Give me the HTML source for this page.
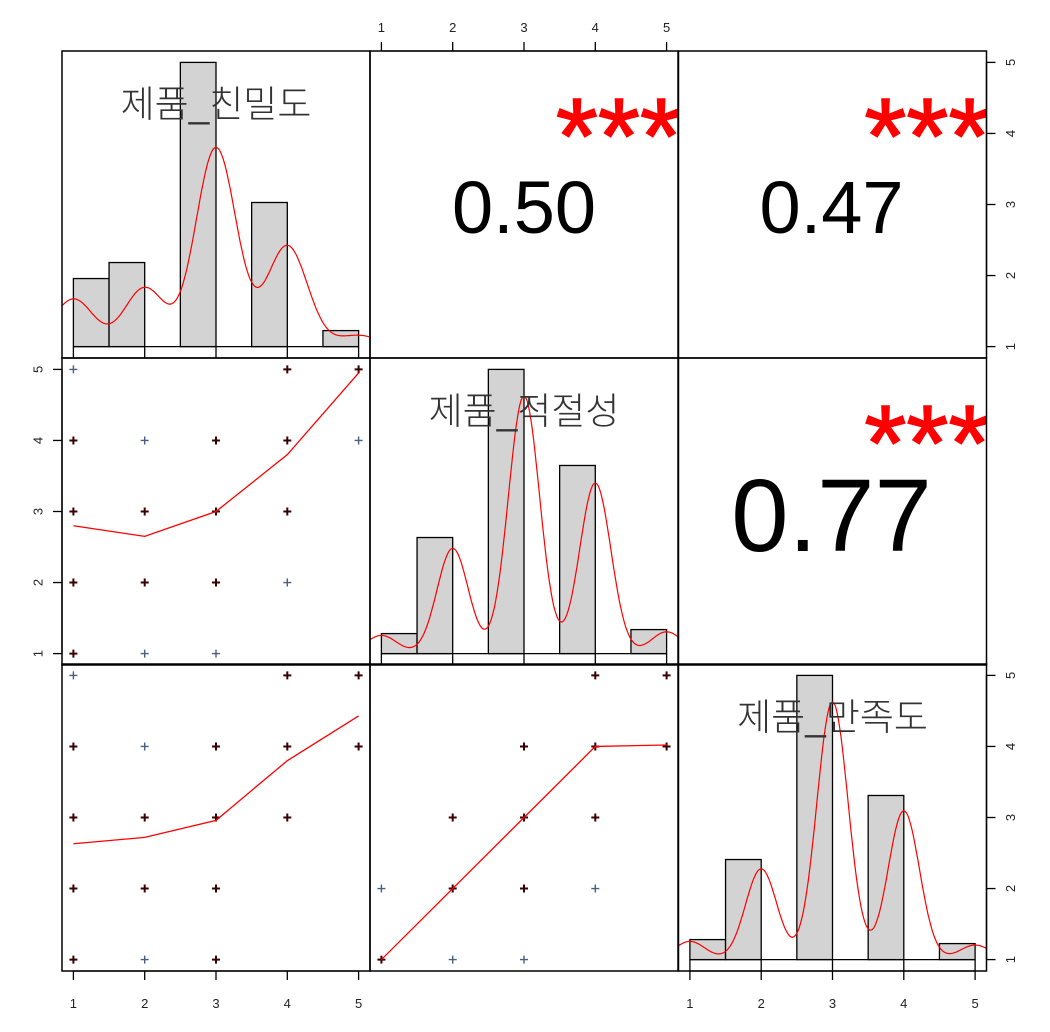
<!DOCTYPE html>
<html><head><meta charset="utf-8">
<style>
html,body{margin:0;padding:0;background:#fff;}
svg{display:block;}
text{font-family:"Liberation Sans","Noto Sans CJK KR",sans-serif;}
</style></head>
<body>
<svg id="chart" width="1050" height="1032" viewBox="0 0 1050 1032" xmlns="http://www.w3.org/2000/svg"></svg>
<script>
// ---- data ----
const varNames = ["제품_친밀도", "제품_적절성", "제품_만족도"];
const tickValues = [1, 2, 3, 4, 5];
const binEdges = [1, 1.5, 2, 2.5, 3, 3.5, 4, 4.5, 5];
const histCounts1 = [17, 21, 71, 36, 4];
const histCounts2 = [5, 29, 71, 47, 6];
const histCounts3 = [5, 25, 71, 41, 4];
const kdeBandwidths = [0.285, 0.22, 0.22];
const corrValues = ["0.50", "0.47", "0.77"];
const corrStars = ["***", "***", "***"];
const corrFontSizes = [74, 74, 103];
// scatter points: [x, y, multiplicity(1=single)]
const scatter21 = [[1,5,1],[4,5,2],[5,5,2],[1,4,2],[2,4,1],[3,4,2],[4,4,2],[5,4,1],[1,3,2],[2,3,2],[3,3,2],[4,3,2],[1,2,2],[2,2,2],[3,2,2],[4,2,1],[1,1,2],[2,1,1],[3,1,1]];
const scatter31 = [[1,5,1],[4,5,2],[5,5,2],[1,4,2],[2,4,1],[3,4,2],[4,4,2],[5,4,2],[1,3,2],[2,3,2],[3,3,2],[4,3,2],[1,2,2],[2,2,2],[3,2,2],[1,1,2],[2,1,1],[3,1,2]];
const scatter32 = [[4,5,2],[5,5,2],[3,4,2],[4,4,2],[5,4,2],[2,3,2],[3,3,2],[4,3,2],[1,2,1],[2,2,2],[3,2,2],[4,2,1],[1,1,2],[2,1,1],[3,1,1]];
const smooth21 = [2.8, 2.65, 3.0, 3.8, 4.95];
const smooth31 = [2.63, 2.72, 2.96, 3.8, 4.43];
const smooth32 = [1, 2, 3, 4, 4.02];

// ---- layout ----
const NS = "http://www.w3.org/2000/svg";
const svg = document.getElementById("chart");
const colL = [62, 370, 678.5];
const rowT = [51, 358, 664];
const PW = 308, PH = 307, PAD = 11.4;
function xs(c, v){ return colL[c] + PAD + (v - 1) * (PW - 2*PAD) / 4; }
function ys(r, v){ return rowT[r] + PH - PAD - (v - 1) * (PH - 2*PAD) / 4; }
function mk(tag, attrs, parent){
  const e = document.createElementNS(NS, tag);
  for (const k in attrs) e.setAttribute(k, attrs[k]);
  (parent || svg).appendChild(e);
  return e;
}
const defs = mk("defs", {});
for (let r = 0; r < 3; r++) for (let c = 0; c < 3; c++) {
  const cp = mk("clipPath", {id: "clip" + r + c}, defs);
  mk("rect", {x: colL[c], y: rowT[r], width: PW, height: PH}, cp);
}
function panelGroup(r, c, name){
  const g = mk("g", {"clip-path": "url(#clip" + r + c + ")"});
  
  
  return g;
}

// ---- histograms (diagonal) ----
const histSets = [histCounts1, histCounts2, histCounts3];
for (let d = 0; d < 3; d++) {
  const counts = histSets[d];
  const g = panelGroup(d, d, "histogram-panel-" + (d + 1));
  const n = counts.reduce((a, b) => a + b, 0);
  const dens = counts.map(k => k / (n * 0.5));
  const maxD = Math.max(...dens);
  const base = rowT[d] + PH - PAD;
  const innerH = PH - 2 * PAD;
  const pxD = innerH / maxD;
  for (let i = 0; i < counts.length; i++) {
    const v = tickValues[i];
    const lo = i === 0 ? binEdges[0] : v - 0.5;
    const hi = i === 0 ? binEdges[1] : v;
    const h = dens[i] * pxD;
    const b = mk("rect", {x: xs(d, lo), y: base - h, width: xs(d, hi) - xs(d, lo), height: h, fill: "#d3d3d3", stroke: "#000", "stroke-width": 1.3}, g);
    
    
  }
  const rug = mk("path", {d: "M" + xs(d, 1) + "," + base + "H" + xs(d, 5) + tickValues.map(v => "M" + xs(d, v) + "," + base + "V" + (rowT[d] + PH)).join(""), stroke: "#000", "stroke-width": 1.3, fill: "none"}, g);
  
  
  const bw = kdeBandwidths[d];
  let pts = [];
  for (let x = 0.7; x <= 5.3; x += 0.02) {
    let s = 0;
    for (let i = 0; i < counts.length; i++) {
      const z = (x - tickValues[i]) / bw;
      s += counts[i] * Math.exp(-0.5 * z * z);
    }
    const den = s / (n * bw * Math.sqrt(2 * Math.PI));
    pts.push(xs(d, x).toFixed(1) + "," + (base - den * pxD).toFixed(1));
  }
  const kde = mk("polyline", {points: pts.join(" "), fill: "none", stroke: "#ff0000", "stroke-width": 1.2}, g);
  
  
  const t = mk("text", {x: colL[d] + PW / 2, y: rowT[d] + 66, "text-anchor": "middle", "font-size": 37, "font-weight": 300, fill: "#333"}, g);
  t.textContent = varNames[d];
  
  
}

// ---- correlation panels ----
const corrCells = [[0, 1], [0, 2], [1, 2]];
for (let k = 0; k < 3; k++) {
  const r = corrCells[k][0], c = corrCells[k][1];
  const g = panelGroup(r, c, "correlation-panel-" + (k + 1));
  const v = mk("text", {x: colL[c] + PW / 2 + (k === 0 ? 0 : -1), y: rowT[r] + (k === 2 ? 193 : 182), "text-anchor": "middle", "font-size": corrFontSizes[k], fill: "#000"}, g);
  v.textContent = corrValues[k];
  
  
  const s = mk("text", {x: colL[c] + PW + 4, y: rowT[r] + 122, "text-anchor": "end", "font-size": 108, fill: "#ff0000", stroke: "#ff0000", "stroke-width": 1.5}, g);
  s.textContent = corrStars[k];
  
  
}

// ---- scatter panels ----
const scatterSets = [[1, 0, scatter21, smooth21], [2, 0, scatter31, smooth31], [2, 1, scatter32, smooth32]];
for (const [r, c, pts, sm] of scatterSets) {
  const g = panelGroup(r, c, "scatter-panel-" + r + c);
  for (const p of pts) {
    const cx = xs(c, p[0]), cy = ys(r, p[1]);
    const col = p[2] > 1 ? "#3a0000" : "#4a5f80";
    const pl = mk("path", {d: "M" + (cx - 4) + "," + cy + "H" + (cx + 4) + "M" + cx + "," + (cy - 4) + "V" + (cy + 4), stroke: col, "stroke-width": p[2] > 1 ? 2 : 1.4, fill: "none"}, g);
    
    
  }
  const line = mk("polyline", {points: sm.map((v, i) => xs(c, tickValues[i]) + "," + ys(r, v)).join(" "), fill: "none", stroke: "#ff0000", "stroke-width": 1.3}, g);
  
  
}

// ---- panel borders ----
for (let r = 0; r < 3; r++) for (let c = 0; c < 3; c++) {
  const b = mk("rect", {x: colL[c], y: rowT[r], width: PW, height: PH, fill: "none", stroke: "#000", "stroke-width": 1.5});
  
  
}

// ---- axes ----
function axisX(c, yLine, dir, name){
  const g = mk("g", {});
  
  
  mk("path", {d: "M" + xs(c, 1) + "," + yLine + "H" + xs(c, 5), stroke: "#000", "stroke-width": 1.3}, g);
  for (const v of tickValues) {
    const x = xs(c, v);
    mk("path", {d: "M" + x + "," + yLine + "V" + (yLine + dir * 9), stroke: "#000", "stroke-width": 1.3}, g);
    const t = mk("text", {x: x, y: yLine + (dir > 0 ? 37 : -19), "text-anchor": "middle", "font-size": 13, fill: "#222"}, g);
    t.textContent = v;
    
    
  }
}
function axisY(r, xLine, dir, name){
  const g = mk("g", {});
  
  
  mk("path", {d: "M" + xLine + "," + ys(r, 1) + "V" + ys(r, 5), stroke: "#000", "stroke-width": 1.3}, g);
  for (const v of tickValues) {
    const y = ys(r, v);
    mk("path", {d: "M" + xLine + "," + y + "H" + (xLine + dir * 9), stroke: "#000", "stroke-width": 1.3}, g);
    const tx = xLine + dir * 24;
    const t = mk("text", {x: tx, y: y, "text-anchor": "middle", "dominant-baseline": "central", "font-size": 13, fill: "#222", transform: "rotate(-90 " + tx + " " + y + ")"}, g);
    t.textContent = v;
    
    
  }
}
axisX(1, rowT[0], -1, "top-x-axis");
axisX(0, rowT[2] + PH, 1, "bottom-x-axis-1");
axisX(2, rowT[2] + PH, 1, "bottom-x-axis-3");
axisY(1, colL[0], -1, "left-y-axis");
axisY(0, colL[2] + PW, 1, "right-y-axis-1");
axisY(2, colL[2] + PW, 1, "right-y-axis-3");
</script>
</body></html>
